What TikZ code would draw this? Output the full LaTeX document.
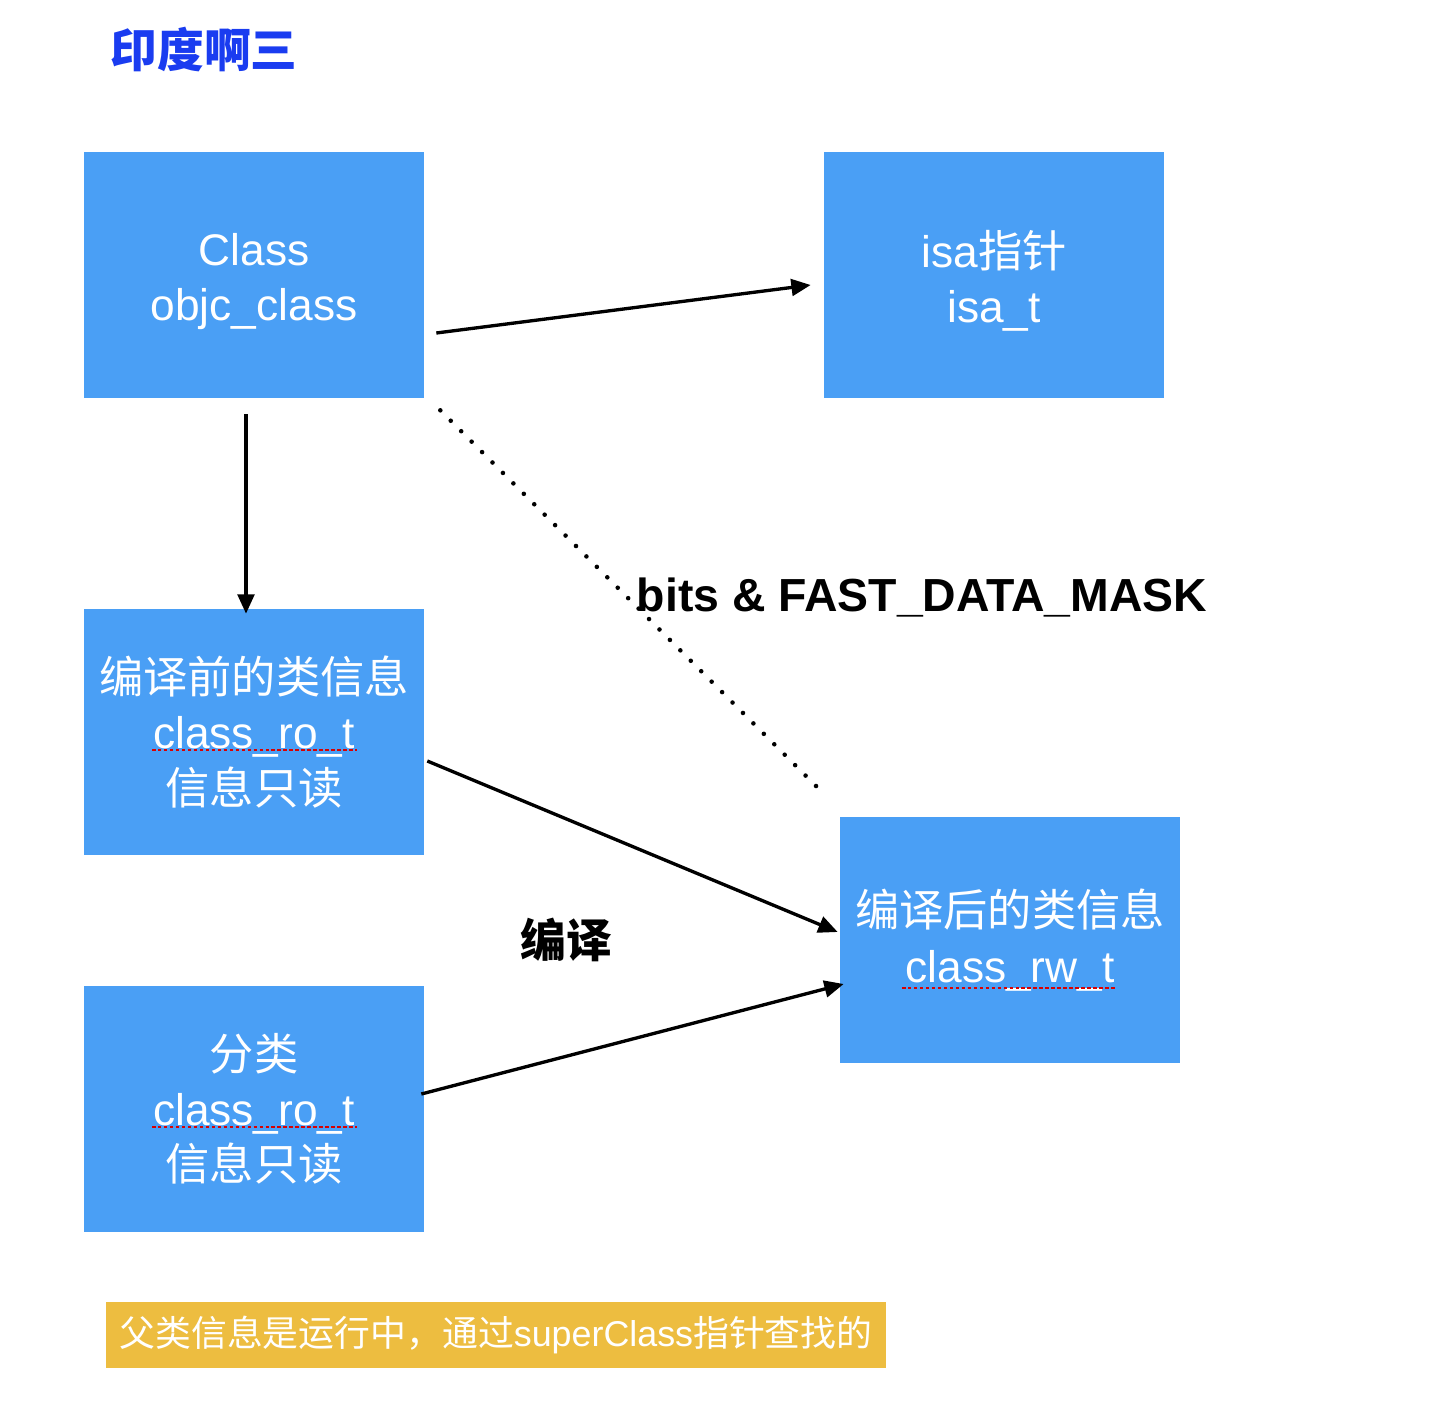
\documentclass[tikz,border=0pt]{standalone}
\usepackage{fontspec}
\setmainfont{Liberation Sans}
\newfontfamily\cjk{Noto Sans CJK SC}
\usepackage{xcolor}
\usepackage{tikz}
\usetikzlibrary{arrows.meta}

\definecolor{boxblue}{RGB}{74,159,245}
\definecolor{noteyellow}{RGB}{237,189,64}
\definecolor{titleblue}{RGB}{26,60,240}

\begin{document}
\begin{tikzpicture}[
    x=0.02cm, y=-0.02cm,
    box/.style={rectangle, fill=boxblue, text=white, minimum width=6.8cm, minimum height=4.92cm, align=center, inner sep=0pt, font=\fontsize{25.2}{31.4}\selectfont},
    arrow/.style={-{Triangle[length=11pt,width=9.5pt]}, line width=1.9pt},
    dots/.style={line width=2.6pt, line cap=round, dash pattern=on 0pt off 8.4pt},
    spell/.style={red!85!black, line width=1.1pt, dash pattern=on 2pt off 1.4pt}
]
    \useasboundingbox (0,0) rectangle (1430,1420);

    % Title
    \node[text=titleblue, font=\cjk\bfseries\fontsize{26.6}{30}\selectfont] (title) at (204,50) {印度啊三};

    % Boxes
    \node[box] (cls) at (254,275) {\rule{0pt}{26pt}Class\\objc\_class};
    \node[box] (isa) at (994,275) {\rule{0pt}{28pt}isa{\cjk 指针}\\isa\_t};
    \node[box] (ro) at (254,732) {{\cjk 编译前的类信息}\\class\_ro\_t\\{\cjk 信息只读}};
    \node[box] (cat) at (254,1109) {{\cjk 分类}\\class\_ro\_t\\{\cjk 信息只读}};
    \node[box] (rw) at (1010,940) {{\cjk 编译后的类信息}\\class\_rw\_t};

    % Spell-check marks
    \draw[spell] ([shift={(-102,18)}]ro.center) -- ([shift={(103,18)}]ro.center);
    \draw[spell] ([shift={(-102,18)}]cat.center) -- ([shift={(103,18)}]cat.center);
    \draw[spell] ([shift={(-108,48)}]rw.center) -- ([shift={(106,48)}]rw.center);

    % Arrows
    \draw[arrow] ([shift={(12,58)}]cls.east) -- ([shift={(-13,10)}]isa.west);
    \draw[arrow] ([shift={(-8,16)}]cls.south) -- ([shift={(-8,5)}]ro.north);
    \draw[dots] ([shift={(16,12)}]cls.south east) -- ([shift={(-22,-29)}]rw.north west);
    \draw[arrow] ([shift={(3,29)}]ro.east) -- ([shift={(-2,-8)}]rw.west);
    \draw[arrow] ([shift={(-3,-15)}]cat.east) -- ([shift={(4,44)}]rw.west);

    % Labels
    \node[font=\bfseries\fontsize{26.4}{30}\selectfont] (mask) at (922,598) {bits \& FAST\_DATA\_MASK};
    \node[font=\cjk\bfseries\fontsize{26}{30}\selectfont] (compile) at (566,940) {编译};

    % Note
    \node[fill=noteyellow, text=white, minimum width=15.6cm, minimum height=1.32cm, inner sep=0pt, font=\fontsize{20.4}{24}\selectfont] (note) at (496,1335) {{\cjk 父类信息是运行中，通过}superClass{\cjk 指针查找的}};
\end{tikzpicture}
\end{document}
